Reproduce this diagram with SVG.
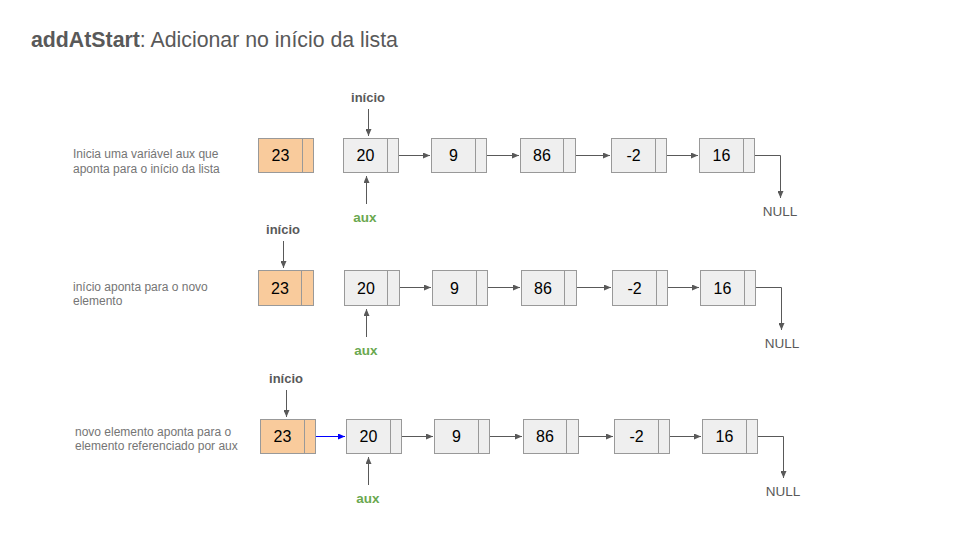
<svg xmlns="http://www.w3.org/2000/svg" width="960" height="540" viewBox="0 0 960 540">
<style>
.title{font-family:"Liberation Sans",Arial,sans-serif;font-size:21.3px;fill:#595959}
.desc{font-family:"Liberation Sans",Arial,sans-serif;font-size:12px;fill:#757575}
.lbl{font-family:"Liberation Sans",Arial,sans-serif;font-size:13px;font-weight:bold;fill:#595959;text-anchor:middle}
.aux{font-family:"Liberation Sans",Arial,sans-serif;font-size:13.5px;font-weight:bold;fill:#6aa84f;text-anchor:middle}
.null{font-family:"Liberation Sans",Arial,sans-serif;font-size:13.5px;fill:#595959;text-anchor:middle}
.val{font-family:"Liberation Sans",Arial,sans-serif;font-size:16px;fill:#000;text-anchor:middle}
.box{fill:#efefef;stroke:#999;stroke-width:1}
.obox{fill:#f9cb9c;stroke:#999;stroke-width:1}
.div{stroke:#999;stroke-width:1}
.con{fill:none;stroke:#595959;stroke-width:1}
.blue{fill:none;stroke:#0000ff;stroke-width:1}
</style>
<defs>
<marker id="ah" markerUnits="userSpaceOnUse" markerWidth="8" markerHeight="6" refX="7" refY="3" orient="auto">
<path d="M0,0 L7,3 L0,6 z" fill="#595959"/>
</marker>
<marker id="ahb" markerUnits="userSpaceOnUse" markerWidth="8" markerHeight="6" refX="7" refY="3" orient="auto">
<path d="M0,0 L7,3 L0,6 z" fill="#0000ff"/>
</marker>
</defs>
<text class="title" x="31" y="47"><tspan font-weight="bold">addAtStart</tspan>: Adicionar no início da lista</text>

<g id="desc1"><text class="desc" x="73" y="158">Inicia uma variável aux que</text><text class="desc" x="73" y="172.5">aponta para o início da lista</text></g>
<g id="desc2"><text class="desc" x="73" y="291">início aponta para o novo</text><text class="desc" x="73" y="305">elemento</text></g>
<g id="desc3"><text class="desc" x="75" y="436">novo elemento aponta para o</text><text class="desc" x="75" y="450">elemento referenciado por aux</text></g>

<!-- Row 1 -->
<g id="r1n23"><rect class="obox" x="258.5" y="138.5" width="55" height="34"/><line class="div" x1="302.5" y1="138.5" x2="302.5" y2="172.5"/><text class="val" x="280.5" y="161">23</text></g>
<g id="r1n20"><rect class="box" x="343.5" y="138.5" width="55" height="34"/><line class="div" x1="387.5" y1="138.5" x2="387.5" y2="172.5"/><text class="val" x="365.5" y="161">20</text></g>
<g id="r1n9"><rect class="box" x="431.5" y="138.5" width="55" height="34"/><line class="div" x1="475.5" y1="138.5" x2="475.5" y2="172.5"/><text class="val" x="453.5" y="161">9</text></g>
<g id="r1n86"><rect class="box" x="520.5" y="138.5" width="55" height="34"/><line class="div" x1="563.5" y1="138.5" x2="563.5" y2="172.5"/><text class="val" x="542" y="161">86</text></g>
<g id="r1n-2"><rect class="box" x="611.5" y="138.5" width="55" height="34"/><line class="div" x1="655.5" y1="138.5" x2="655.5" y2="172.5"/><text class="val" x="633.5" y="161">-2</text></g>
<g id="r1n16"><rect class="box" x="699.5" y="138.5" width="55" height="34"/><line class="div" x1="743.5" y1="138.5" x2="743.5" y2="172.5"/><text class="val" x="721.5" y="161">16</text></g>
<g id="r1inicio"><text class="lbl" x="368" y="102">início</text></g>
<g id="r1aux"><text class="aux" x="365" y="222">aux</text></g>
<g id="r1null"><text class="null" x="780" y="216">NULL</text></g>

<!-- Row 2 -->
<g id="r2n23"><rect class="obox" x="258.5" y="270.5" width="55" height="35"/><line class="div" x1="301.5" y1="270.5" x2="301.5" y2="305.5"/><text class="val" x="280" y="293.5">23</text></g>
<g id="r2n20"><rect class="box" x="344.5" y="270.5" width="55" height="35"/><line class="div" x1="387.5" y1="270.5" x2="387.5" y2="305.5"/><text class="val" x="366" y="293.5">20</text></g>
<g id="r2n9"><rect class="box" x="432.5" y="270.5" width="55" height="35"/><line class="div" x1="476.5" y1="270.5" x2="476.5" y2="305.5"/><text class="val" x="454.5" y="293.5">9</text></g>
<g id="r2n86"><rect class="box" x="521.5" y="270.5" width="55" height="35"/><line class="div" x1="564.5" y1="270.5" x2="564.5" y2="305.5"/><text class="val" x="543" y="293.5">86</text></g>
<g id="r2n-2"><rect class="box" x="612.5" y="270.5" width="55" height="35"/><line class="div" x1="656.5" y1="270.5" x2="656.5" y2="305.5"/><text class="val" x="634.5" y="293.5">-2</text></g>
<g id="r2n16"><rect class="box" x="700.5" y="270.5" width="55" height="35"/><line class="div" x1="744.5" y1="270.5" x2="744.5" y2="305.5"/><text class="val" x="722.5" y="293.5">16</text></g>
<g id="r2inicio"><text class="lbl" x="283" y="234">início</text></g>
<g id="r2aux"><text class="aux" x="366" y="355">aux</text></g>
<g id="r2null"><text class="null" x="782" y="348">NULL</text></g>

<!-- Row 3 -->
<g id="r3n23"><rect class="obox" x="260.5" y="419.5" width="55" height="34"/><line class="div" x1="304.5" y1="419.5" x2="304.5" y2="453.5"/><text class="val" x="282.5" y="442">23</text></g>
<g id="r3n20"><rect class="box" x="346.5" y="419.5" width="55" height="34"/><line class="div" x1="390.5" y1="419.5" x2="390.5" y2="453.5"/><text class="val" x="368.5" y="442">20</text></g>
<g id="r3n9"><rect class="box" x="434.5" y="419.5" width="55" height="34"/><line class="div" x1="478.5" y1="419.5" x2="478.5" y2="453.5"/><text class="val" x="456.5" y="442">9</text></g>
<g id="r3n86"><rect class="box" x="523.5" y="419.5" width="55" height="34"/><line class="div" x1="566.5" y1="419.5" x2="566.5" y2="453.5"/><text class="val" x="545" y="442">86</text></g>
<g id="r3n-2"><rect class="box" x="614.5" y="419.5" width="55" height="34"/><line class="div" x1="658.5" y1="419.5" x2="658.5" y2="453.5"/><text class="val" x="636.5" y="442">-2</text></g>
<g id="r3n16"><rect class="box" x="702.5" y="419.5" width="55" height="34"/><line class="div" x1="746.5" y1="419.5" x2="746.5" y2="453.5"/><text class="val" x="724.5" y="442">16</text></g>
<g id="r3inicio"><text class="lbl" x="286" y="383">início</text></g>
<g id="r3aux"><text class="aux" x="368" y="503">aux</text></g>
<g id="r3null"><text class="null" x="783" y="496">NULL</text></g>

<g id="connectors">
<!-- row 1 -->
<line class="con" x1="368.5" y1="109" x2="368.5" y2="136" marker-end="url(#ah)"/>
<line class="con" x1="366.5" y1="204" x2="366.5" y2="176" marker-end="url(#ah)"/>
<line class="con" x1="399" y1="155.5" x2="430" y2="155.5" marker-end="url(#ah)"/>
<line class="con" x1="487" y1="155.5" x2="519" y2="155.5" marker-end="url(#ah)"/>
<line class="con" x1="576" y1="155.5" x2="610" y2="155.5" marker-end="url(#ah)"/>
<line class="con" x1="667" y1="155.5" x2="698" y2="155.5" marker-end="url(#ah)"/>
<polyline class="con" points="755,155.5 780.5,155.5 780.5,198" marker-end="url(#ah)"/>
<!-- row 2 -->
<line class="con" x1="283.5" y1="241" x2="283.5" y2="268" marker-end="url(#ah)"/>
<line class="con" x1="366.5" y1="337" x2="366.5" y2="309" marker-end="url(#ah)"/>
<line class="con" x1="400" y1="287.5" x2="431" y2="287.5" marker-end="url(#ah)"/>
<line class="con" x1="488" y1="287.5" x2="520" y2="287.5" marker-end="url(#ah)"/>
<line class="con" x1="577" y1="287.5" x2="611" y2="287.5" marker-end="url(#ah)"/>
<line class="con" x1="668" y1="287.5" x2="699" y2="287.5" marker-end="url(#ah)"/>
<polyline class="con" points="756,287.5 781.5,287.5 781.5,330" marker-end="url(#ah)"/>
<!-- row 3 -->
<line class="con" x1="286.5" y1="390" x2="286.5" y2="417" marker-end="url(#ah)"/>
<line class="con" x1="368.5" y1="485" x2="368.5" y2="457" marker-end="url(#ah)"/>
<line class="blue" x1="316" y1="436.5" x2="345" y2="436.5" marker-end="url(#ahb)"/>
<line class="con" x1="402" y1="436.5" x2="433" y2="436.5" marker-end="url(#ah)"/>
<line class="con" x1="490" y1="436.5" x2="522" y2="436.5" marker-end="url(#ah)"/>
<line class="con" x1="579" y1="436.5" x2="613" y2="436.5" marker-end="url(#ah)"/>
<line class="con" x1="670" y1="436.5" x2="701" y2="436.5" marker-end="url(#ah)"/>
<polyline class="con" points="758,436.5 783.5,436.5 783.5,478" marker-end="url(#ah)"/>
</g>
</svg>
